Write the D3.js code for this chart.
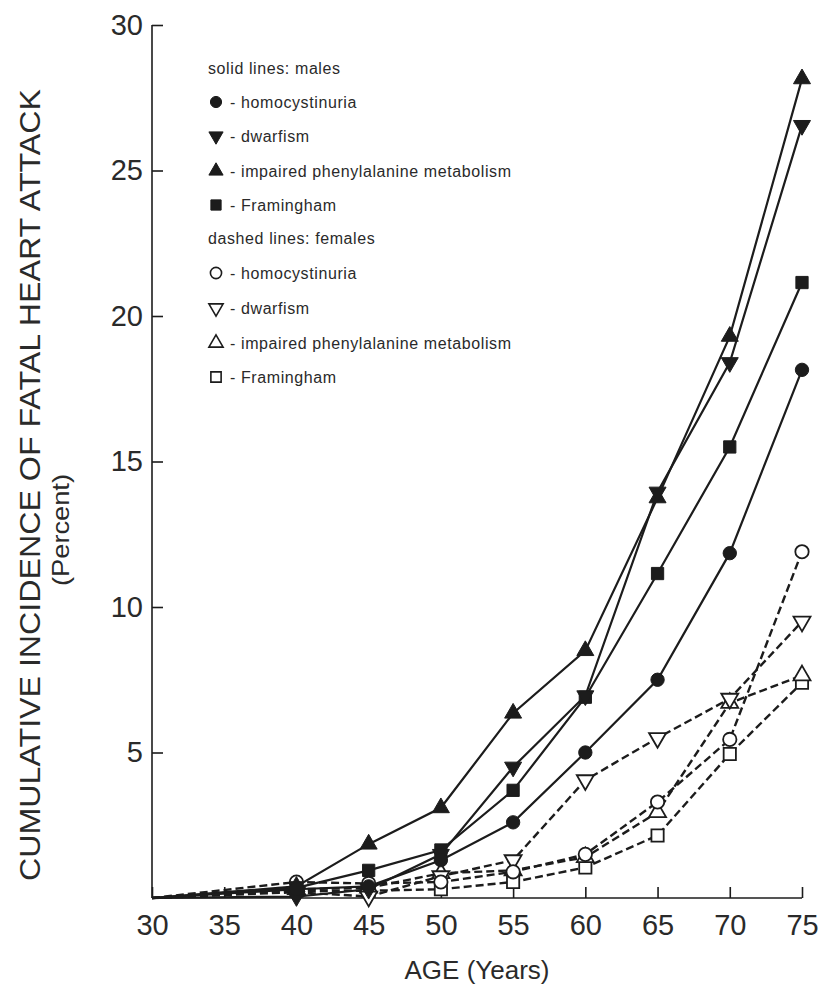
<!DOCTYPE html>
<html><head><meta charset="utf-8">
<script src="https://cdn.jsdelivr.net/npm/d3@7"></script>
<style>html,body{margin:0;padding:0;background:#fff}</style>
</head><body>
<svg id="c" width="819" height="984"></svg>
<script>
// ---- data ----
const ages = [30, 40, 45, 50, 55, 60, 65, 70, 75];
const xTicks = [30, 35, 40, 45, 50, 55, 60, 65, 70, 75];
const yTicks = [5, 10, 15, 20, 25, 30];
const maleHomocystinuria = [0, 0.3, 0.4, 1.3, 2.6, 5.0, 7.5, 11.85, 18.15];
const maleDwarfism       = [0, 0.05, 0.3, 1.5, 4.5, 6.95, 13.95, 18.4, 26.55];
const malePhenylalanine  = [0, 0.4, 1.85, 3.1, 6.35, 8.5, 13.75, 19.3, 28.15];
const maleFramingham     = [0, 0.35, 0.95, 1.65, 3.7, 6.9, 11.15, 15.5, 21.15];
const femaleHomocystinuria = [0, 0.55, 0.5, 0.55, 0.9, 1.5, 3.3, 5.45, 11.9];
const femaleDwarfism       = [0, 0.2, 0.05, 0.75, 1.3, 4.05, 5.5, 6.85, 9.5];
const femalePhenylalanine  = [0, 0.3, 0.35, 0.85, 0.95, 1.4, 2.95, 6.7, 7.65];
const femaleFramingham     = [0, 0.25, 0.25, 0.3, 0.55, 1.05, 2.15, 4.95, 7.4];
const legendHeaderMale = "solid lines: males";
const legendHeaderFemale = "dashed lines: females";
const legendLabels = ["homocystinuria", "dwarfism", "impaired phenylalanine metabolism", "Framingham"];

const series = [
  {vals: maleHomocystinuria, sym: "circle", filled: true},
  {vals: maleDwarfism, sym: "down", filled: true},
  {vals: malePhenylalanine, sym: "up", filled: true},
  {vals: maleFramingham, sym: "square", filled: true},
  {vals: femaleHomocystinuria, sym: "circle", filled: false},
  {vals: femaleDwarfism, sym: "down", filled: false},
  {vals: femalePhenylalanine, sym: "up", filled: false},
  {vals: femaleFramingham, sym: "square", filled: false}
];

const INK = "#1c1c1c";
const FONT = "Liberation Sans, Arial, sans-serif";
const svg = d3.select("#c");
const x = d3.scaleLinear().domain([30, 75]).range([152, 802]);
const y = d3.scaleLinear().domain([0, 30]).range([898, 25]);

// axes
const gx = svg.append("g").attr("transform", "translate(0,898)")
  .call(d3.axisBottom(x).tickValues(xTicks).tickSize(-11).tickPadding(16).tickFormat(d3.format("d")));
const gy = svg.append("g").attr("transform", "translate(152,0)")
  .call(d3.axisLeft(y).tickValues(yTicks).tickSize(-11).tickPadding(9).tickFormat(d3.format("d")));
[gx, gy].forEach(g => {
  g.select(".domain").attr("stroke", INK).attr("stroke-width", 1.6);
  g.selectAll(".tick line").attr("stroke", INK).attr("stroke-width", 1.6);
  g.selectAll(".tick text").attr("fill", "#2a2a2a").attr("font-family", FONT).attr("font-size", 29);
});
gx.select(".domain").attr("d", "M152,0H802");
gy.select(".domain").attr("d", "M0,898V25");

// axis titles
svg.append("text").attr("x", 477).attr("y", 979).attr("text-anchor", "middle")
  .attr("font-family", FONT).attr("font-size", 26).attr("fill", "#2a2a2a")
  .text("AGE (Years)");
svg.append("text").attr("transform", "translate(40,485) rotate(-90)").attr("text-anchor", "middle")
  .attr("font-family", FONT).attr("font-size", 29).attr("fill", "#2a2a2a")
  .attr("textLength", 792).attr("lengthAdjust", "spacingAndGlyphs")
  .text("CUMULATIVE INCIDENCE OF FATAL HEART ATTACK");
svg.append("text").attr("transform", "translate(69,530) rotate(-90)").attr("text-anchor", "middle")
  .attr("font-family", FONT).attr("font-size", 24).attr("fill", "#2a2a2a")
  .attr("textLength", 112).attr("lengthAdjust", "spacingAndGlyphs")
  .text("(Percent)");

function symPath(kind, scale) {
  const s = scale || 1;
  if (kind === "circle") return d3.symbol(d3.symbolCircle, 140 * s)();
  if (kind === "square") return d3.symbol(d3.symbolSquare, 150 * s)();
  return d3.symbol(d3.symbolTriangle, 125 * s)();
}
function symTransform(kind, cx, cy) {
  if (kind === "down") return `translate(${cx},${cy}) rotate(180)`;
  return `translate(${cx},${cy})`;
}

const line = d3.line().x((d, i) => x(ages[i])).y(d => y(d));

// lines
series.forEach(s => {
  svg.append("path").attr("d", line(s.vals)).attr("fill", "none")
    .attr("stroke", INK).attr("stroke-width", s.filled ? 2.2 : 2.4)
    .attr("stroke-dasharray", s.filled ? null : "8,4");
});
// markers (open first so filled sit on top)
[...series].reverse().forEach(s => {
  svg.append("g").selectAll("path").data(s.vals.map((v, i) => [ages[i], v]).filter(d => d[0] >= 40))
    .join("path")
    .attr("d", symPath(s.sym))
    .attr("transform", d => symTransform(s.sym, x(d[0]), y(d[1])))
    .attr("fill", s.filled ? INK : "#fff")
    .attr("stroke", INK).attr("stroke-width", s.filled ? 1 : 1.8);
});

// legend
const lg = svg.append("g").attr("font-family", FONT).attr("fill", "#2a2a2a").attr("letter-spacing", 0.6);
lg.append("text").attr("x", 208).attr("y", 74).attr("font-size", 16).text(legendHeaderMale);
lg.append("text").attr("x", 208).attr("y", 244).attr("font-size", 16).text(legendHeaderFemale);
const maleRows = [102, 136, 171, 205];
const femaleRows = [273, 308, 343, 377];
series.forEach((s, i) => {
  const ry = i < 4 ? maleRows[i] : femaleRows[i - 4];
  lg.append("path").attr("d", symPath(s.sym, 0.7)).attr("transform", symTransform(s.sym, 216, ry))
    .attr("fill", s.filled ? INK : "#fff").attr("stroke", INK).attr("stroke-width", s.filled ? 1 : 1.6);
  lg.append("text").attr("x", 230).attr("y", ry + 6).attr("font-size", 16)
    .text("- " + legendLabels[i % 4]);
});
</script>
</body></html>
